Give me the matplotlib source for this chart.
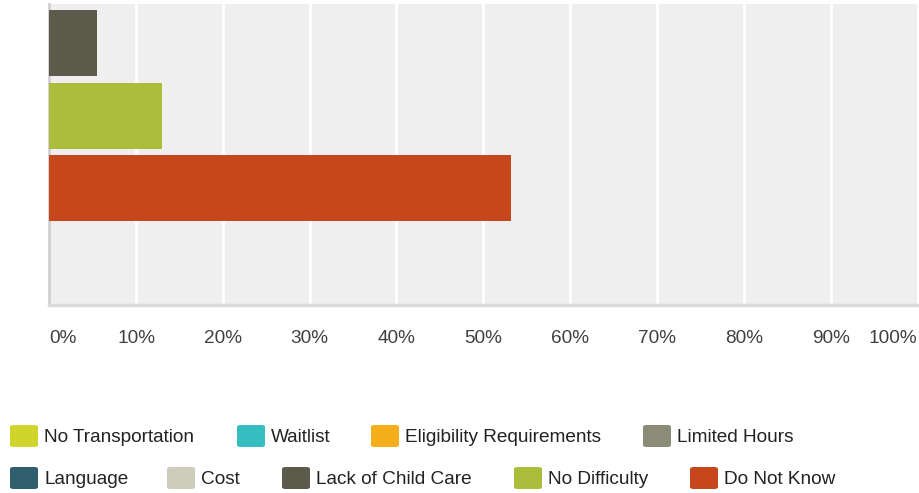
import matplotlib.pyplot as plt
from matplotlib.patches import FancyBboxPatch

plt.rcParams['font.family'] = ['Liberation Sans', 'DejaVu Sans']

# answer options (one series each, single category)
series = ['No Transportation', 'Waitlist', 'Eligibility Requirements', 'Limited Hours',
          'Language', 'Cost', 'Lack of Child Care', 'No Difficulty', 'Do Not Know']
values = [0, 0, 0, 0, 0, 0, 5.5, 13.0, 53.2]
colors = ['#D0D52B', '#35BDBF', '#F7AE1D', '#8A8B79',
          '#2F5F6D', '#CECCBD', '#5C5A4A', '#ABBD3A', '#C8461C']
xticks = [0, 10, 20, 30, 40, 50, 60, 70, 80, 90, 100]
xlabels = [f'{t}%' for t in xticks]

W, H = 919, 493
fig = plt.figure(figsize=(W / 100, H / 100), dpi=100)
ax = fig.add_axes([49.2 / W, 1 - 305 / H, (917.4 - 49.2) / W, (305 - 4) / H])
ax.set_facecolor('#EFEFEF')

pos = list(range(len(series)))
ax.barh(pos, values, height=0.91, color=colors, zorder=3)
ax.set_ylim(9.61, 5.46)
ax.set_xlim(0, 100)

for t in xticks[1:-1]:
    ax.axvline(t, color='white', lw=2, zorder=1)

for s in ['top', 'right']:
    ax.spines[s].set_visible(False)
ax.spines['left'].set_color('#D0D0D0')
ax.spines['left'].set_linewidth(2)
ax.spines['bottom'].set_color('#DCDCDC')
ax.spines['bottom'].set_linewidth(2.5)
ax.set_yticks([])
ax.set_xticks(xticks)
ax.set_xticklabels(xlabels, fontsize=13.7, color='#404040')
ax.tick_params(axis='x', length=0, pad=18)
labs = ax.get_xticklabels()
labs[0].set_ha('left')
labs[-1].set_ha('right')

# legend laid out like the original flow legend
leg_rows = [(436, [(0, 10), (1, 237), (2, 371), (3, 643)]),
            (478, [(4, 10), (5, 167), (6, 282), (7, 514), (8, 690)])]
for yc, items in leg_rows:
    for i, x in items:
        box = FancyBboxPatch((x / W, 1 - (yc + 11) / H), 28 / W, 22 / H,
                             boxstyle='round,pad=0,rounding_size=0.004',
                             transform=fig.transFigure, facecolor=colors[i],
                             edgecolor='none')
        fig.patches.append(box)
        fig.text((x + 34) / W, 1 - (yc + 1.5) / H, series[i], fontsize=13.7,
                 color='#222222', va='center', ha='left')

fig.savefig('out.png', dpi=100)
